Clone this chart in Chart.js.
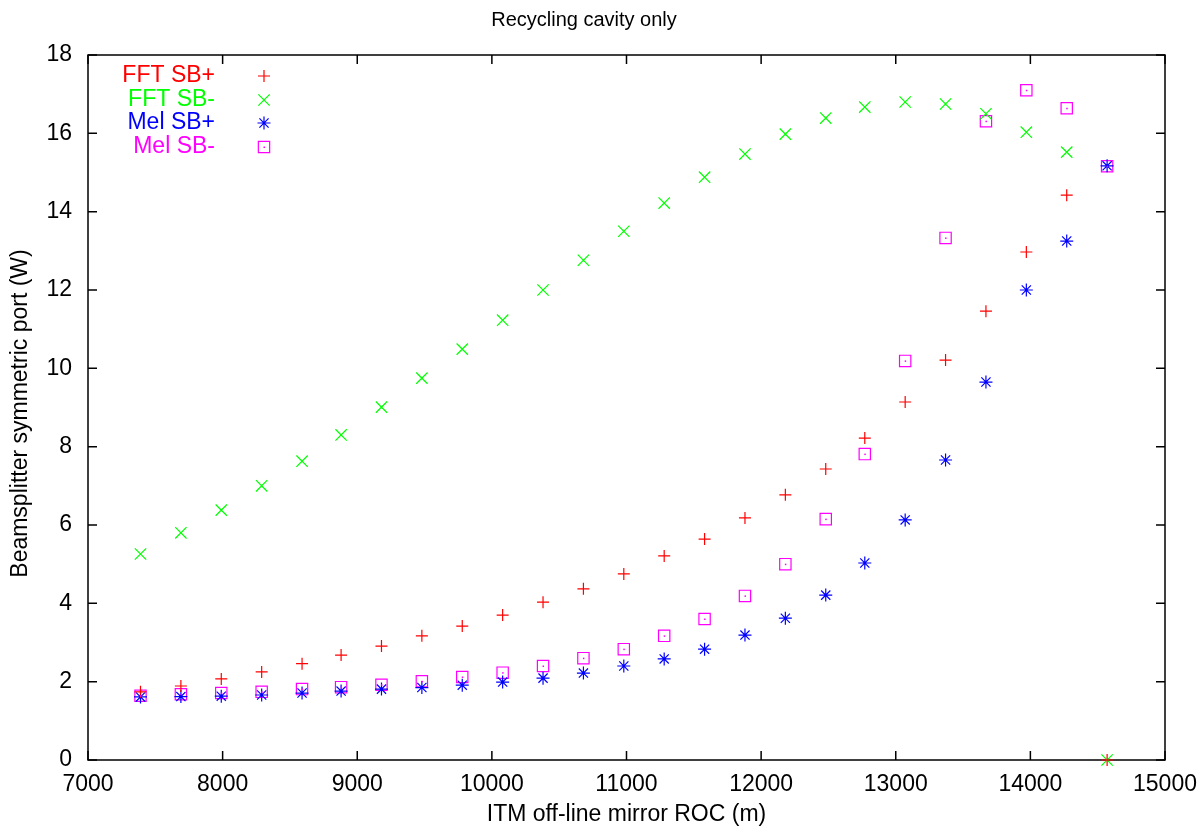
<!DOCTYPE html>
<html>
<head>
<meta charset="utf-8">
<title>Recycling cavity only</title>
<script src="https://cdn.jsdelivr.net/npm/chart.js@4/dist/chart.umd.min.js"></script>
<style>
  html, body { margin: 0; padding: 0; background: #fff; }
  #wrap { width: 1201px; height: 832px; }
</style>
</head>
<body>
<div id="wrap"><canvas id="rocChart" width="1201" height="832"></canvas></div>
<script>
// ITM off-line mirror ROC (m)
const roc = [7390, 7690, 7990, 8290, 8590, 8880, 9180, 9480, 9780, 10080, 10380, 10680, 10980,
             11280, 11580, 11880, 12180, 12480, 12770, 13070, 13370, 13670, 13970, 14270, 14570];

// Puissance au port symétrique (W)
const fftPlus  = [1.74, 1.89, 2.07, 2.25, 2.46, 2.68, 2.91, 3.17, 3.42, 3.70, 4.03, 4.37, 4.75,
                  5.21, 5.64, 6.18, 6.77, 7.43, 8.22, 9.14, 10.21, 11.46, 12.97, 14.42, 0];
const fftMinus = [5.26, 5.80, 6.38, 7.00, 7.63, 8.30, 9.01, 9.75, 10.49, 11.23, 12.00, 12.76, 13.50,
                  14.22, 14.88, 15.47, 15.98, 16.39, 16.67, 16.80, 16.75, 16.50, 16.03, 15.52, 0];
const melPlus  = [1.61, 1.62, 1.63, 1.66, 1.71, 1.76, 1.81, 1.85, 1.91, 1.99, 2.09, 2.22, 2.40,
                  2.58, 2.83, 3.19, 3.62, 4.21, 5.03, 6.13, 7.66, 9.65, 12.00, 13.25, 15.17];
const melMinus = [1.64, 1.68, 1.71, 1.74, 1.81, 1.86, 1.92, 2.01, 2.12, 2.23, 2.40, 2.60, 2.83,
                  3.17, 3.60, 4.19, 5.00, 6.15, 7.81, 10.19, 13.33, 16.31, 17.10, 16.64, 15.16];

const xTicks = [7000, 8000, 9000, 10000, 11000, 12000, 13000, 14000, 15000];
const yTicks = [0, 2, 4, 6, 8, 10, 12, 14, 16, 18];

const FONT = '"Liberation Sans", Arial, Helvetica, sans-serif';

function points(values) {
    return roc.map((x, i) => ({ x: x, y: values[i] }));
}

function serie(label, values, color, style, radius) {
    return {
        label: label,
        data: points(values),
        showLine: false,
        borderColor: color,
        backgroundColor: 'rgba(0,0,0,0)',
        borderWidth: 1.2,
        pointStyle: style,
        pointRadius: radius,
        pointHoverRadius: radius,
        clip: false
    };
}

// Cadre et graduations vers l'intérieur (style gnuplot)
const framePlugin = {
    id: 'frame',
    beforeDatasetsDraw(chart) {
        const { ctx, chartArea: a, scales } = chart;
        ctx.save();
        ctx.strokeStyle = '#000';
        ctx.lineWidth = 1.5;
        ctx.strokeRect(a.left, a.top, a.right - a.left, a.bottom - a.top);
        ctx.beginPath();
        xTicks.forEach(v => {
            const px = scales.x.getPixelForValue(v);
            ctx.moveTo(px, a.bottom); ctx.lineTo(px, a.bottom - 9);
            ctx.moveTo(px, a.top); ctx.lineTo(px, a.top + 9);
        });
        yTicks.forEach(v => {
            const py = scales.y.getPixelForValue(v);
            ctx.moveTo(a.left, py); ctx.lineTo(a.left + 9, py);
            ctx.moveTo(a.right, py); ctx.lineTo(a.right - 9, py);
        });
        ctx.stroke();
        ctx.restore();
    }
};

// Petit point au centre des carrés + légende + titres
const decorPlugin = {
    id: 'decor',
    afterDatasetsDraw(chart) {
        const { ctx, chartArea: a } = chart;
        ctx.save();
        const sq = chart.getDatasetMeta(3);
        ctx.fillStyle = '#ff00ff';
        sq.data.forEach(el => ctx.fillRect(el.x - 0.5, el.y - 0.5, 1.5, 1.5));

        // légende
        ctx.font = '23px ' + FONT;
        ctx.textAlign = 'right';
        ctx.textBaseline = 'middle';
        const rows = [76, 100, 123, 147];
        chart.data.datasets.forEach((ds, i) => {
            ctx.fillStyle = ds.borderColor;
            ctx.fillText(ds.label, 215, rows[i]);
            ctx.strokeStyle = ds.borderColor;
            ctx.lineWidth = 1.2;
            ctx.fillStyle = 'rgba(0,0,0,0)';
            Chart.helpers.drawPoint(ctx, {
                pointStyle: ds.pointStyle, radius: ds.pointRadius, borderWidth: 1.2, rotation: 0
            }, 264, rows[i]);
            if (i === 3) {
                ctx.fillStyle = ds.borderColor;
                ctx.fillRect(263.5, rows[i] - 0.5, 1.5, 1.5);
            }
        });

        // titres
        ctx.fillStyle = '#000';
        ctx.textAlign = 'center';
        ctx.font = '20px ' + FONT;
        ctx.fillText('Recycling cavity only', 584, 20);
        ctx.font = '23px ' + FONT;
        ctx.fillText('ITM off-line mirror ROC (m)', (a.left + a.right) / 2, 815);
        ctx.translate(21, (a.top + a.bottom) / 2 + 6);
        ctx.rotate(-Math.PI / 2);
        ctx.fillText('Beamsplitter symmetric port (W)', 0, 0);
        ctx.restore();
    }
};

const ctx = document.getElementById('rocChart').getContext('2d');
const chart = new Chart(ctx, {
    type: 'scatter',
    data: {
        datasets: [
            serie('FFT SB+', fftPlus, '#ff0000', 'cross', 6),
            serie('FFT SB-', fftMinus, '#00ff00', 'crossRot', 8),
            serie('Mel SB+', melPlus, '#0000ff', 'star', 6.5),
            serie('Mel SB-', melMinus, '#ff00ff', 'rect', 8)
        ]
    },
    options: {
        responsive: false,
        animation: false,
        events: [],
        layout: { padding: { top: 55, left: 0, right: 36, bottom: 0 } },
        plugins: {
            legend: { display: false },
            title: { display: false },
            tooltip: { enabled: false }
        },
        scales: {
            x: {
                type: 'linear',
                min: 7000,
                max: 15000,
                afterFit(scale) {
                    scale.height = 72;
                    scale.paddingLeft = 0;
                    scale.paddingRight = 0;
                },
                afterBuildTicks(scale) { scale.ticks = xTicks.map(v => ({ value: v })); },
                grid: { display: false, drawTicks: false },
                border: { display: false },
                ticks: {
                    color: '#000', padding: 11, maxRotation: 0,
                    font: { family: FONT, size: 23 },
                    callback: v => String(v)
                }
            },
            y: {
                type: 'linear',
                min: 0,
                max: 18,
                afterFit(scale) {
                    scale.width = 88;
                    scale.paddingTop = 0;
                    scale.paddingBottom = 0;
                },
                afterBuildTicks(scale) { scale.ticks = yTicks.map(v => ({ value: v })); },
                grid: { display: false, drawTicks: false },
                border: { display: false },
                ticks: {
                    color: '#000', padding: 16,
                    font: { family: FONT, size: 23 },
                    callback: v => String(v)
                }
            }
        }
    },
    plugins: [framePlugin, decorPlugin]
});
</script>
</body>
</html>
